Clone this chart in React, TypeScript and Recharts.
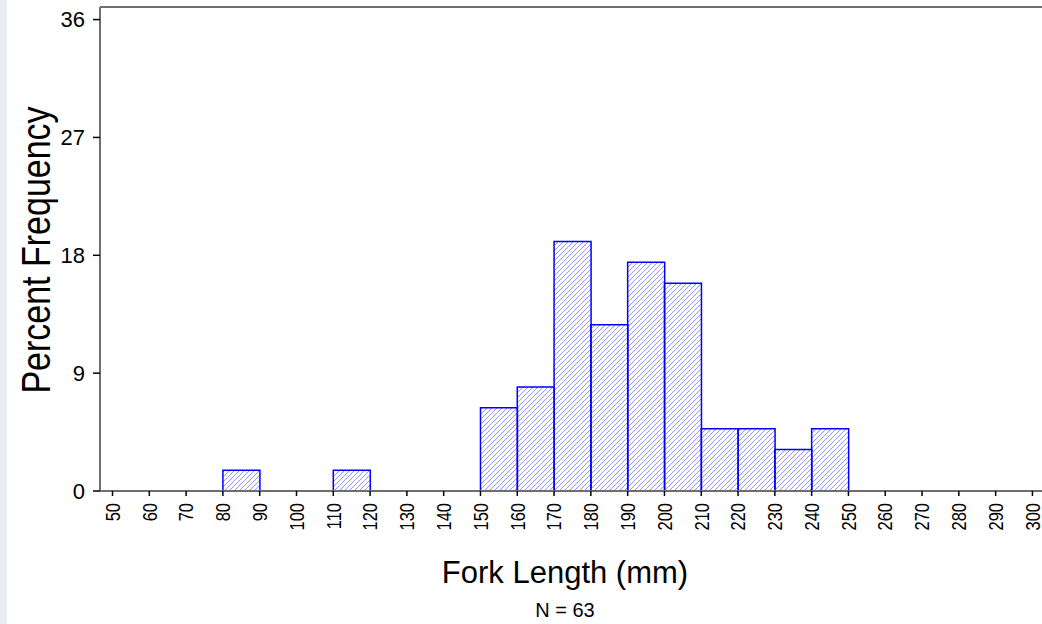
import { BarChart, Bar, XAxis, YAxis, ReferenceLine } from "recharts";

// histogram bins (mm), midpoints of 10 mm classes
const binMids = [55, 65, 75, 85, 95, 105, 115, 125, 135, 145, 155, 165, 175, 185, 195, 205, 215, 225, 235, 245, 255, 265, 275, 285, 295];
// percent frequency per bin (N = 63)
const percents = [0, 0, 0, 1.59, 0, 0, 1.59, 0, 0, 0, 6.35, 7.94, 19.05, 12.7, 17.46, 15.87, 4.76, 4.76, 3.17, 4.76, 0, 0, 0, 0, 0];

const xTicks = [50, 60, 70, 80, 90, 100, 110, 120, 130, 140, 150, 160, 170, 180, 190, 200, 210, 220, 230, 240, 250, 260, 270, 280, 290, 300];
const yTicks = [0, 9, 18, 27, 36];

const data = binMids.map((mid, i) => ({ mid, pct: percents[i] }));

const FONT = '"Liberation Sans", Arial, sans-serif';
const X_DOMAIN: [number, number] = [46.6, 302.6];
const Y_MAX = 36.96;

// rotated labels in the original are drawn a bit wider than their advance
function XTick({ x, y, payload }: any) {
  return (
    <g transform={`translate(${x},${y}) rotate(-90) scale(1,1.28)`}>
      <text
        x={-7}
        y={0}
        textAnchor="end"
        dominantBaseline="central"
        fontSize={16.5}
        fontFamily={FONT}
        fill="#000"
      >
        {payload.value}
      </text>
    </g>
  );
}

function YTick({ x, y, payload }: any) {
  return (
    <text x={x} y={y} textAnchor="end" dominantBaseline="central" fontSize={22} fontFamily={FONT} fill="#000">
      {payload.value}
    </text>
  );
}

export default function App() {
  return (
    <div style={{ position: "absolute", left: 0, top: 0, width: 1042, height: 624, background: "#fff", fontFamily: FONT }}>
      <div style={{ position: "absolute", left: 0, top: 0, width: 7, height: 624, background: "#ebebf2" }} />
      <BarChart
        width={1042}
        height={624}
        data={data}
        margin={{ top: 7, right: 0, bottom: 0, left: 0 }}
        barCategoryGap={0}
        barGap={0}
      >
        <defs>
          <pattern id="hatch" patternUnits="userSpaceOnUse" width={5} height={5}>
            <path d="M-1,1 L1,-1 M0,5 L5,0 M4,6 L6,4" stroke="#7a7aff" strokeWidth={0.8} />
          </pattern>
        </defs>
        <XAxis
          dataKey="mid"
          type="number"
          domain={X_DOMAIN}
          allowDataOverflow
          ticks={xTicks}
          interval={0}
          height={133}
          tickSize={5}
          tickMargin={0}
          tickLine={{ stroke: "#000", strokeWidth: 1.5 }}
          axisLine={{ stroke: "#6e6e6e", strokeWidth: 2 }}
          tick={<XTick />}
          label={{
            content: ({ viewBox }: any) => {
              const cx = viewBox.x + viewBox.width / 2 - 6;
              return (
                <g>
                  <text x={cx} y={583} textAnchor="middle" fontSize={31} fontFamily={FONT} fill="#000">
                    Fork Length (mm)
                  </text>
                  <text x={cx} y={617} textAnchor="middle" fontSize={20} fontFamily={FONT} fill="#000">
                    N = 63
                  </text>
                </g>
              );
            },
          }}
        />
        <YAxis
          type="number"
          domain={[0, Y_MAX]}
          allowDataOverflow
          ticks={yTicks}
          interval={0}
          width={100}
          tickSize={7}
          tickMargin={8}
          tickLine={{ stroke: "#000", strokeWidth: 1.5 }}
          axisLine={{ stroke: "#6e6e6e", strokeWidth: 2 }}
          tick={<YTick />}
          label={{
            content: () => (
              <g transform="translate(50,250) rotate(-90) scale(1,1.22)">
                <text x={0} y={0} textAnchor="middle" fontSize={34} fontFamily={FONT} fill="#000">
                  Percent Frequency
                </text>
              </g>
            ),
          }}
        />
        <ReferenceLine y={Y_MAX} stroke="#6e6e6e" strokeWidth={2} ifOverflow="extendDomain" />
        <Bar dataKey="pct" fill="url(#hatch)" stroke="#0000ff" strokeWidth={1.5} isAnimationActive={false} />
      </BarChart>
    </div>
  );
}
